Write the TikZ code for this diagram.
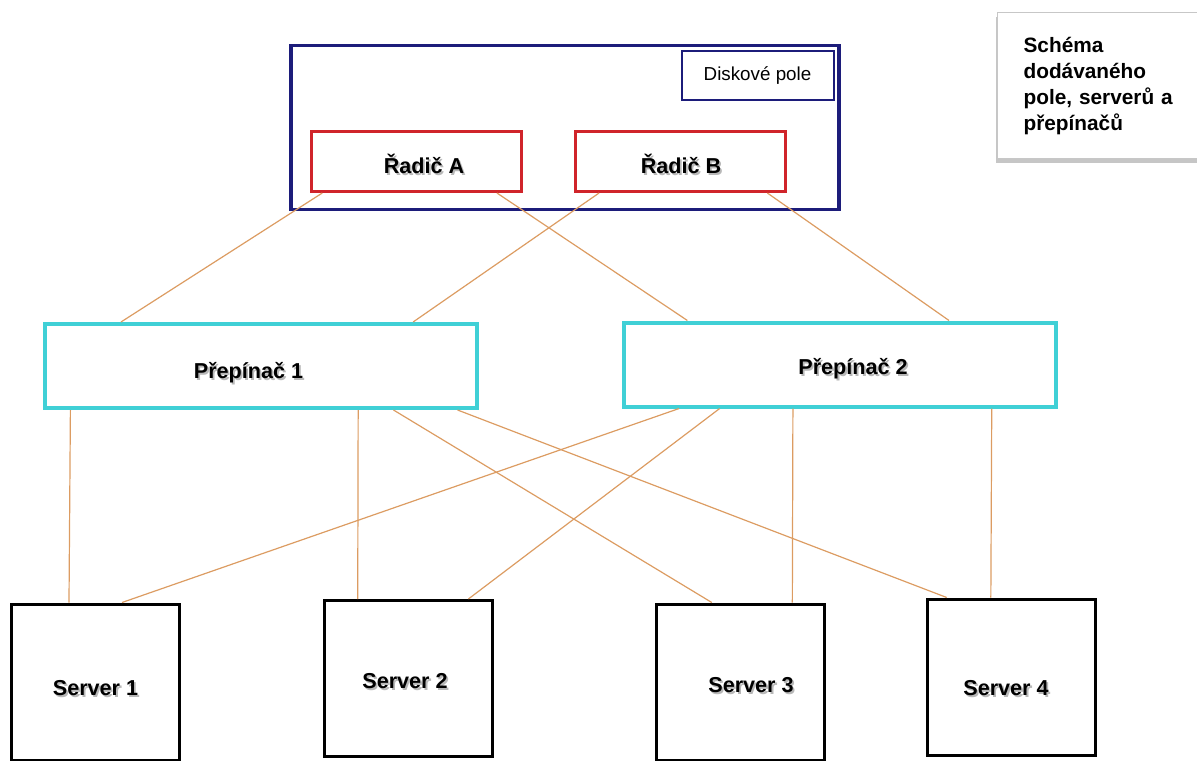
\documentclass[tikz,border=0pt]{standalone}
\usepackage{fontspec}
\setmainfont{Liberation Sans}
\usepackage{tikz}
\usetikzlibrary{positioning,calc,shadows}
\definecolor{arraynavy}{RGB}{28,28,122}
\definecolor{ctrlred}{RGB}{208,36,42}
\definecolor{switchcyan}{RGB}{64,208,214}
\definecolor{linkorange}{RGB}{220,156,98}
\newcommand{\shtxt}[1]{\rlap{\raisebox{-1.2pt}{\hspace{0.9pt}\textcolor{black!28}{#1}}}#1}

\tikzset{
  box/.style={draw, fill=white, line width=1.5pt, inner sep=0pt},
  ctrlbox/.style={box, draw=ctrlred, minimum width=105pt, minimum height=30pt},
  switchbox/.style={box, draw=switchcyan, line width=2pt, minimum width=216pt, minimum height=42pt},
  serverbox/.style={box, draw=black, minimum width=84pt, minimum height=78pt},
  boxtext/.style={anchor=base, inner sep=0pt, font=\fontsize{10.8pt}{13pt}\selectfont\bfseries},
  link/.style={draw=linkorange, line width=0.6pt}
}

\begin{document}
\begin{tikzpicture}[x=0.5pt,y=-0.5pt]
  \useasboundingbox (0,0) rectangle (1197,760);

  % disk array with its two controllers
  \node[draw=arraynavy, line width=1.6pt, fill=white, minimum width=274pt, minimum height=82pt] (array) at (565,127.5) {};
  \node[draw=arraynavy, line width=1pt, fill=white, minimum width=76pt, minimum height=24.5pt,
        font=\fontsize{9.4pt}{11pt}\selectfont] (disk) at (757.5,75.5) {Diskové pole};
  \node[ctrlbox] (ctrlA) at (416,161.5) {};
  \node[ctrlbox] (ctrlB) at (680,161.5) {};
  \node[boxtext] (ctrlA-t) at ($(ctrlA)+(8,11.5)$) {\shtxt{Řadič A}};
  \node[boxtext] (ctrlB-t) at ($(ctrlB)+(1,11.5)$) {\shtxt{Řadič B}};

  % switches
  \node[switchbox] (sw1) at (260.5,366) {};
  \node[switchbox] (sw2) at (840,364.5) {};
  \node[boxtext] (sw1-t) at ($(sw1)+(-12,12)$) {\shtxt{Přepínač 1}};
  \node[boxtext] (sw2-t) at ($(sw2)+(13,9.5)$) {\shtxt{Přepínač 2}};

  % servers
  \node[serverbox] (srv1) at (95.5,682) {};
  \node[serverbox] (srv2) at (408,678.5) {};
  \node[serverbox] (srv3) at (740,682) {};
  \node[serverbox] (srv4) at (1011,677) {};
  \node[boxtext] (srv1-t) at ($(srv1)+(0,13)$) {\shtxt{Server 1}};
  \node[boxtext] (srv2-t) at ($(srv2)+(-3,9.5)$) {\shtxt{Server 2}};
  \node[boxtext] (srv3-t) at ($(srv3)+(11,10)$) {\shtxt{Server 3}};
  \node[boxtext] (srv4-t) at ($(srv4)+(-5,18)$) {\shtxt{Server 4}};

  % caption box
  \node[draw=black!22, line width=0.6pt, fill=white, anchor=north west, inner xsep=13pt,
        text width=90pt, minimum height=73pt, align=left,
        drop shadow={shadow xshift=-0.6pt, shadow yshift=-2.4pt, opacity=0.45},
        font=\fontsize{10.4pt}{13pt}\selectfont\bfseries] (note) at (997,12)
        {Schéma\\dodávaného\\pole, serverů a\\přepínačů};

  % controllers to switches
  \foreach \from/\fa/\to/\fb in {ctrlA/0.06/sw1/0.18, ctrlA/0.88/sw2/0.15,
                                 ctrlB/0.12/sw1/0.85, ctrlB/0.91/sw2/0.75}
    \draw[link] ($(\from.south west)!\fa!(\from.south east)$) -- ($(\to.north west)!\fb!(\to.north east)$);

  % switches to servers
  \foreach \from/\fa/\to/\fb in {sw1/0.064/srv1/0.345, sw1/0.724/srv2/0.206,
                                 sw1/0.805/srv3/0.335, sw1/0.952/srv4/0.124,
                                 sw2/0.131/srv1/0.655, sw2/0.224/srv2/0.853,
                                 sw2/0.392/srv3/0.806, sw2/0.848/srv4/0.382}
    \draw[link] ($(\from.south west)!\fa!(\from.south east)$) -- ($(\to.north west)!\fb!(\to.north east)$);
\end{tikzpicture}
\end{document}
